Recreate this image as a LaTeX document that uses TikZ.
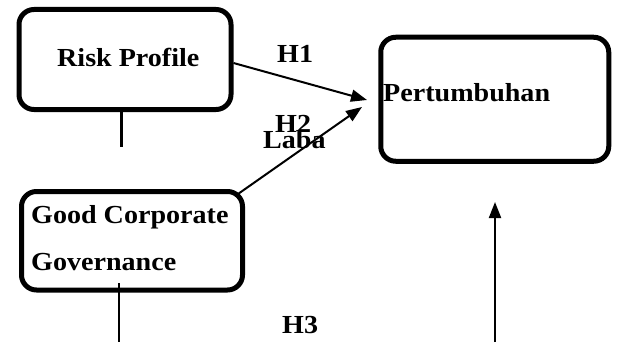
\documentclass[tikz,border=0pt]{standalone}
\usepackage{fontspec}
\setmainfont{Liberation Serif}[FakeStretch=1.08]
\usetikzlibrary{positioning, calc, arrows.meta}
\tikzset{
    box/.style={draw, line width=5pt, rounded corners=15pt, inner sep=0pt}, % the three rounded boxes
    word/.style={anchor=base west, inner sep=0pt, font=\bfseries\fontsize{26}{30}\selectfont}, % bold labels
}
\tikzstyle{arrow} = [line width=2pt, -{Triangle[length=16pt, width=12pt]}]

\begin{document}
\begin{tikzpicture}[x=1pt, y=-1pt]
    \useasboundingbox (0,0) rectangle (617,342);

    % Boxes
    \node[box, minimum width=212pt, minimum height=100pt] (rp) at (125,59.5) {};
    \node[box, minimum width=228pt, minimum height=124pt] (pert) at (494.75,99.25) {};
    \node[box, minimum width=221pt, minimum height=98.5pt] (gcg) at (132,240.75) {};

    % Texts
    \node[word] (rptext) at (57,67) {Risk Profile};
    \node[word] (perttext) at (383,102) {Pertumbuhan};
    \node[word] (gcgtext1) at (31,223) {Good Corporate};
    \node[word] (gcgtext2) at (31,270) {Governance};
    \node[word] (h1) at (277,63) {H1};
    \node[word] (h2) at (275,132) {H2};
    \node[word] (laba) at (263,148) {Laba};
    \node[word] (h3) at (282,333) {H3};

    % Ends of the connectors
    \coordinate (h1tip) at (367,100);
    \coordinate (h2tip) at (362,107);
    \coordinate (rpstub) at (121,147);
    \coordinate (gcgstub) at (119,283);
    \coordinate (gcgfoot) at (119,342);
    \coordinate (upfoot) at (495,342);
    \coordinate (uptip) at (495,202);

    % Connectors
    \draw[arrow] ($(rp.east)+(0,3.5)$) -- (h1tip);
    \draw[arrow] ($(gcg.north east)+(-7,5)$) -- (h2tip);
    \draw[line width=3pt] (rp.south -| rpstub) -- (rpstub);
    \draw[line width=1.5pt] (gcgstub) -- (gcgfoot);
    \draw[arrow] (upfoot) -- (uptip);
\end{tikzpicture}
\end{document}
